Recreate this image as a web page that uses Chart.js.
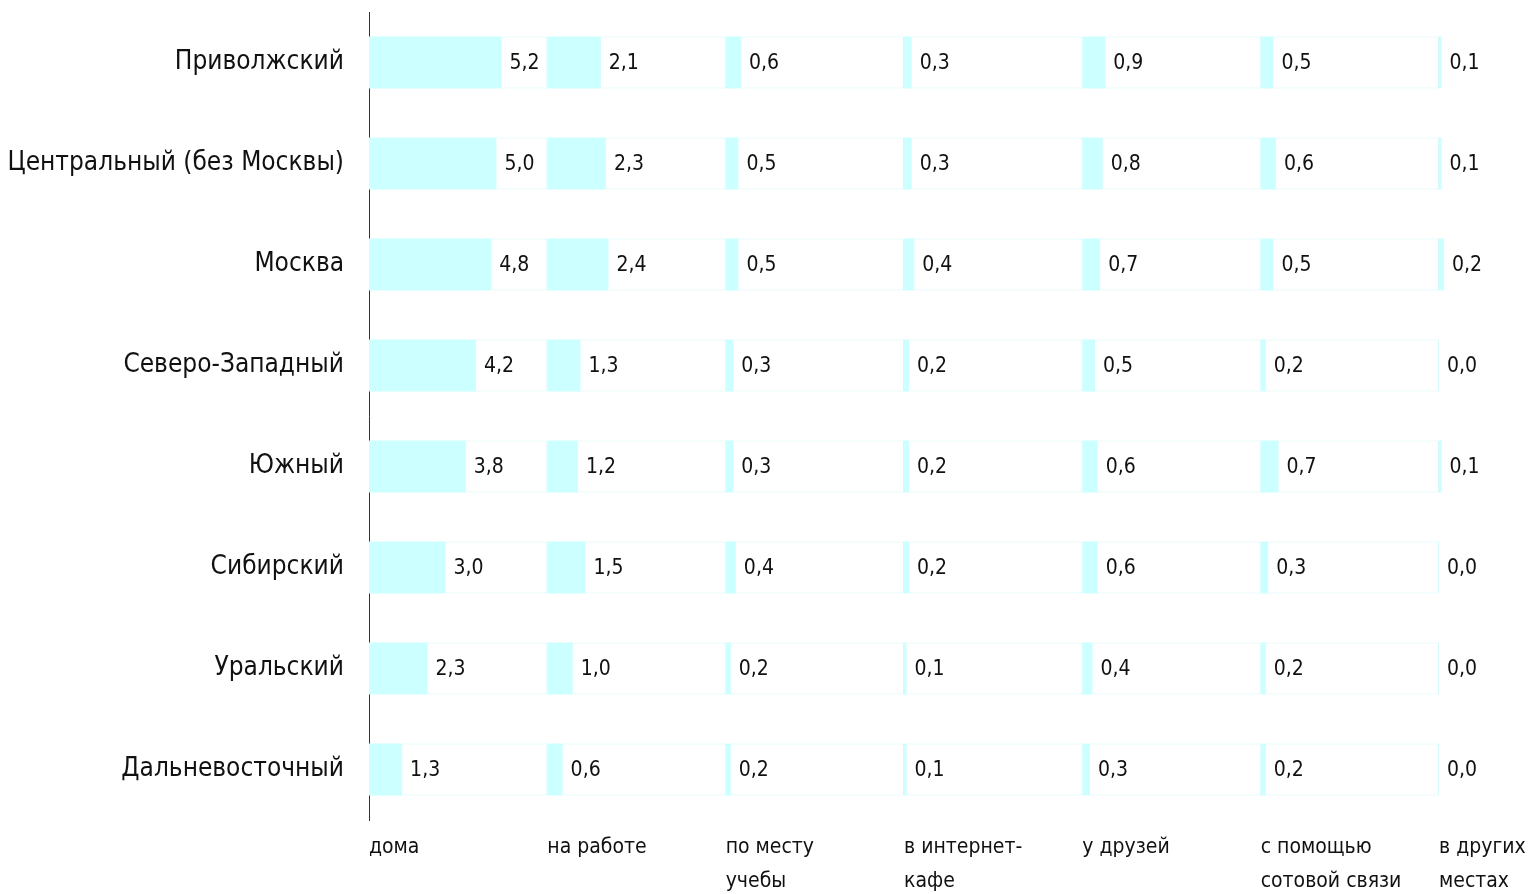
<!DOCTYPE html>
<html lang="ru">
<head>
<meta charset="utf-8">
<title>Regions</title>
<script src="https://cdn.jsdelivr.net/npm/chart.js@4.4.1/dist/chart.umd.min.js"></script>
<style>
  html, body { margin: 0; padding: 0; background: #fff; }
  #wrap { width: 1532px; height: 894px; position: relative; }
</style>
</head>
<body>
<div id="wrap"><canvas id="chart"></canvas></div>
<script>
// --- DATA ---
const regions = ['Приволжский', 'Центральный (без Москвы)', 'Москва', 'Северо-Западный',
                 'Южный', 'Сибирский', 'Уральский', 'Дальневосточный'];
const places = [['дома'], ['на работе'], ['по месту', 'учебы'], ['в интернет-', 'кафе'],
                ['у друзей'], ['с помощью', 'сотовой связи'], ['в других', 'местах']];
const atHome    = [5.2, 5.0, 4.8, 4.2, 3.8, 3.0, 2.3, 1.3];
const atWork    = [2.1, 2.3, 2.4, 1.3, 1.2, 1.5, 1.0, 0.6];
const atSchool  = [0.6, 0.5, 0.5, 0.3, 0.3, 0.4, 0.2, 0.2];
const atCafe    = [0.3, 0.3, 0.4, 0.2, 0.2, 0.2, 0.1, 0.1];
const atFriends = [0.9, 0.8, 0.7, 0.5, 0.6, 0.6, 0.4, 0.3];
const byMobile  = [0.5, 0.6, 0.5, 0.2, 0.7, 0.3, 0.2, 0.2];
const elsewhere = [0.1, 0.1, 0.2, 0.0, 0.1, 0.0, 0.0, 0.0];
const series = [atHome, atWork, atSchool, atCafe, atFriends, byMobile, elsewhere];

// --- CONFIG ---
const LANE = 7;            // width of one column lane, in value units
const FONT = "'Liberation Sans Narrow', 'DejaVu Sans Condensed', 'Roboto', sans-serif";
const BAR_COLOR = '#ccffff';
const LANE_BORDER = '#d6f8f8';

const fmt = v => v.toFixed(1).replace('.', ',');

// stacked: value bar, then white filler up to the lane end
const datasets = [];
series.forEach((vals, j) => {
    datasets.push({
        label: places[j].join(' '),
        data: vals,
        backgroundColor: BAR_COLOR,
        borderWidth: 0,
        isValue: true,
        stack: 's'
    });
    if (j < series.length - 1) {
        datasets.push({
            label: 'lane',
            data: vals.map(v => LANE - v),
            backgroundColor: '#ffffff',
            borderColor: LANE_BORDER,
            borderWidth: { top: 1, bottom: 1, right: 1, left: 0 },
            borderSkipped: false,
            stack: 's'
        });
    }
});

// value labels right after each bar
const valueLabels = {
    id: 'valueLabels',
    afterDatasetsDraw(chart) {
        const ctx = chart.ctx;
        ctx.save();
        ctx.font = '21px ' + FONT;
        ctx.fillStyle = '#111';
        ctx.textAlign = 'left';
        ctx.textBaseline = 'middle';
        chart.data.datasets.forEach((ds, i) => {
            if (!ds.isValue) return;
            chart.getDatasetMeta(i).data.forEach((bar, k) => {
                ctx.fillText(fmt(ds.data[k]), bar.x + 8, bar.y + 1);
            });
        });
        ctx.restore();
    }
};

new Chart(document.getElementById('chart'), {
    type: 'bar',
    data: { labels: regions, datasets },
    options: {
        indexAxis: 'y',
        responsive: true,
        maintainAspectRatio: false,
        animation: false,
        layout: { padding: { top: 12, right: 0, left: 0, bottom: 0 } },
        datasets: { bar: { barPercentage: 0.515, categoryPercentage: 1 } },
        plugins: { legend: { display: false }, tooltip: { enabled: false } },
        scales: {
            x: {
                stacked: true,
                min: 0,
                max: 45.65,
                grid: { display: false, drawTicks: false },
                border: { display: false },
                afterBuildTicks(scale) {
                    scale.ticks = places.map((p, j) => ({ value: j * LANE }));
                },
                afterFit(scale) {
                    scale.height = 74;
                    scale.paddingLeft = 0;
                    scale.paddingRight = 0;
                },
                ticks: {
                    autoSkip: false,
                    maxRotation: 0,
                    align: 'start',
                    padding: 11,
                    color: '#111',
                    font: { family: FONT, size: 21, lineHeight: 1.6 },
                    callback: (val, idx) => places[idx]
                }
            },
            y: {
                stacked: true,
                grid: { display: false, drawTicks: false },
                border: { display: true, color: '#333', width: 1 },
                afterFit(scale) {
                    scale.width = 369;
                    scale.paddingTop = 0;
                    scale.paddingBottom = 0;
                },
                ticks: {
                    padding: 25,
                    color: '#111',
                    font: { family: FONT, size: 26 }
                }
            }
        }
    },
    plugins: [valueLabels]
});
</script>
</body>
</html>
